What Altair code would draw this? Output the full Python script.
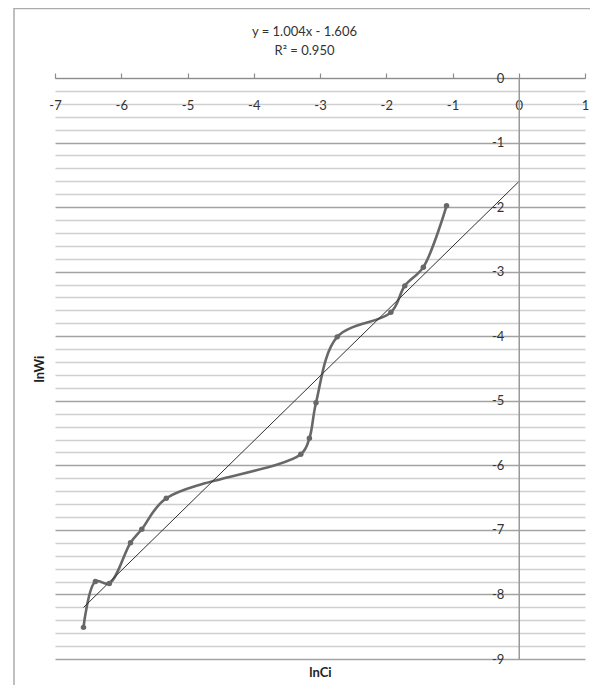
import altair as alt
import pandas as pd

# data
lnCi = [-6.57, -6.39, -6.18, -5.86, -5.69, -5.32, -3.29, -3.16, -3.06, -2.74, -1.93, -1.72, -1.44, -1.09]
lnWi = [-8.51, -7.80, -7.83, -7.20, -6.99, -6.51, -5.83, -5.58, -5.03, -4.01, -3.63, -3.22, -2.93, -1.98]

trend_x = [-6.57, 0.0]
slope = 1.004
intercept = -1.606
equation = ["y = 1.004x - 1.606", "R\u00b2 = 0.950"]

x_ticks = [-7, -6, -5, -4, -3, -2, -1, 0, 1]
y_ticks = [0, -1, -2, -3, -4, -5, -6, -7, -8, -9]
y_grid = [round(-0.2 * i, 1) for i in range(46)]

FONT = "Lato"
df = pd.DataFrame({"x": lnCi, "y": lnWi})
tdf = pd.DataFrame({"x": trend_x})

xs = alt.Scale(domain=[-7, 1], nice=False, zero=False)
ys = alt.Scale(domain=[-9, 0], nice=False, zero=False)

top_x_axis = alt.Axis(
    orient="top", values=x_ticks, grid=False, tickSize=5, tickColor="#8c8c8c",
    domainColor="#8c8c8c", domainWidth=1.2, tickWidth=1.2,
    labelPadding=-32, labelBaseline="middle", labelAlign="center",
    labelExpr="'' + datum.value",
    labelFont=FONT, labelFontSize=13, labelColor="#333333", labelFlush=False,
    title=equation, titleFont=FONT, titleFontSize=13, titleFontWeight="normal",
    titleColor="#333333", titlePadding=15, titleX=249, titleAnchor="middle",
    titleAlign="center", titleLineHeight=19,
)
bottom_x_axis = alt.Axis(
    orient="bottom", grid=False, domain=False, ticks=False, labels=False,
    title="lnCi", titleFont=FONT, titleFontSize=13, titleFontWeight="bold",
    titleColor="#222222", titlePadding=7,
)
grid_y_axis = alt.Axis(
    orient="left", values=y_grid, grid=True, domain=False, ticks=False, labels=False,
    gridColor=alt.condition("datum.value % 1 === 0", alt.value("#a3a3a3"), alt.value("#d0d0d0")),
    gridWidth=1.4,
    title="lnWi", titleFont=FONT, titleFontSize=13, titleFontWeight="bold",
    titleColor="#222222", titlePadding=9,
)
label_y_axis = alt.Axis(
    orient="left", values=y_ticks, grid=False, ticks=False, offset=-463.75,
    domainColor="#9a9a9a", domainWidth=1.5, labelPadding=15,
    labelExpr="'' + datum.value",
    labelFont=FONT, labelFontSize=13, labelColor="#333333", labelFlush=False,
    title=None, zindex=1,
)

frame = alt.Chart(pd.DataFrame({"a": [0]})).mark_rect(
    fillOpacity=0, stroke="#ababab", strokeWidth=1.5
).encode(x=alt.value(-41), x2=alt.value(620), y=alt.value(-69.5), y2=alt.value(700))

line = alt.Chart(df).mark_line(
    interpolate="catmull-rom", color="#686868", strokeWidth=2.6
).encode(
    x=alt.X("x:Q", scale=xs, axis=top_x_axis),
    y=alt.Y("y:Q", scale=ys, axis=grid_y_axis),
)

points = alt.Chart(df).mark_circle(size=30, color="#686868", opacity=1).encode(
    x=alt.X("x:Q", scale=xs, axis=bottom_x_axis),
    y=alt.Y("y:Q", scale=ys, axis=label_y_axis),
)

trend = alt.Chart(tdf).transform_calculate(
    y=f"{slope} * datum.x + ({intercept})"
).mark_line(color="#303030", strokeWidth=1).encode(
    x=alt.X("x:Q", scale=xs, axis=None),
    y=alt.Y("y:Q", scale=ys, axis=None),
)

chart = alt.layer(frame, line, trend, points).resolve_axis(
    x="independent", y="independent"
).properties(
    width=530, height=581,
    autosize=alt.AutoSizeParams(type="none"),
    padding={"left": 47, "top": 70, "right": 5, "bottom": 26},
).configure_view(stroke=None)

chart.save("out.html", embed_options={"renderer": "svg", "actions": False})
